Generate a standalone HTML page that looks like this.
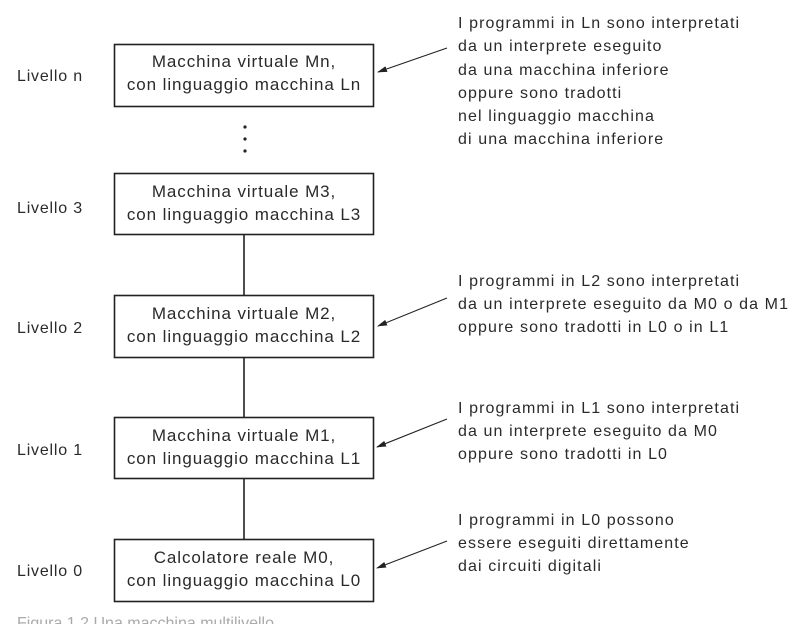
<!DOCTYPE html>
<html><head><meta charset="utf-8"><style>
html,body{margin:0;padding:0;background:#fff;}
svg{display:block;}
text{font-family:"Liberation Sans","DejaVu Sans",sans-serif;fill:#2a2a2a;}
</style></head><body>
<svg width="810" height="624" viewBox="0 0 810 624" xmlns="http://www.w3.org/2000/svg">
<defs><marker id="a" markerWidth="10" markerHeight="8" refX="9" refY="4" orient="auto" markerUnits="userSpaceOnUse"><path d="M0,1 L10,4 L0,7 Z" fill="#222"/></marker></defs>
<g fill="none" stroke="#222" stroke-width="1.6">
<rect x="114.5" y="44.5" width="259" height="62"/>
<rect x="114.5" y="173.5" width="259" height="61"/>
<rect x="114.5" y="295.5" width="259" height="62"/>
<rect x="114.5" y="417.5" width="259" height="61"/>
<rect x="114.5" y="539.5" width="259" height="62"/>
<line x1="244" y1="235" x2="244" y2="295"/>
<line x1="244" y1="358" x2="244" y2="417"/>
<line x1="244" y1="479" x2="244" y2="539"/>
</g>
<g stroke="#222" stroke-width="1.1" marker-end="url(#a)">
<line x1="447" y1="48" x2="378" y2="72"/>
<line x1="447" y1="298" x2="378" y2="326"/>
<line x1="447" y1="419" x2="377" y2="447"/>
<line x1="447" y1="541" x2="377" y2="568"/>
</g>
<g fill="#222"><circle cx="245" cy="127" r="1.6"/><circle cx="245" cy="139" r="1.6"/><circle cx="245" cy="151" r="1.6"/></g>
<g font-size="17" letter-spacing="0.9" text-anchor="middle">
<text x="244" y="67">Macchina virtuale Mn,</text><text x="244" y="90">con linguaggio macchina Ln</text>
<text x="244" y="197">Macchina virtuale M3,</text><text x="244" y="220">con linguaggio macchina L3</text>
<text x="244" y="319">Macchina virtuale M2,</text><text x="244" y="342">con linguaggio macchina L2</text>
<text x="244" y="441">Macchina virtuale M1,</text><text x="244" y="464">con linguaggio macchina L1</text>
<text x="244" y="563">Calcolatore reale M0,</text><text x="244" y="586">con linguaggio macchina L0</text>
</g>
<g font-size="16" letter-spacing="0.8">
<text x="17" y="81">Livello n</text>
<text x="17" y="213">Livello 3</text>
<text x="17" y="333">Livello 2</text>
<text x="17" y="455">Livello 1</text>
<text x="17" y="576">Livello 0</text>
</g>
<g font-size="16" letter-spacing="1.1">
<text x="458" y="28">I programmi in Ln sono interpretati</text>
<text x="458" y="51">da un interprete eseguito</text>
<text x="458" y="75">da una macchina inferiore</text>
<text x="458" y="98">oppure sono tradotti</text>
<text x="458" y="121">nel linguaggio macchina</text>
<text x="458" y="144">di una macchina inferiore</text>
<text x="458" y="286">I programmi in L2 sono interpretati</text>
<text x="458" y="309">da un interprete eseguito da M0 o da M1</text>
<text x="458" y="332">oppure sono tradotti in L0 o in L1</text>
<text x="458" y="413">I programmi in L1 sono interpretati</text>
<text x="458" y="436">da un interprete eseguito da M0</text>
<text x="458" y="459">oppure sono tradotti in L0</text>
<text x="458" y="525">I programmi in L0 possono</text>
<text x="458" y="548">essere eseguiti direttamente</text>
<text x="458" y="571">dai circuiti digitali</text>
</g>
<text x="17" y="628" font-size="16" style="fill:#aaa">Figura 1.2 Una macchina multilivello</text>
</svg>
</body></html>
